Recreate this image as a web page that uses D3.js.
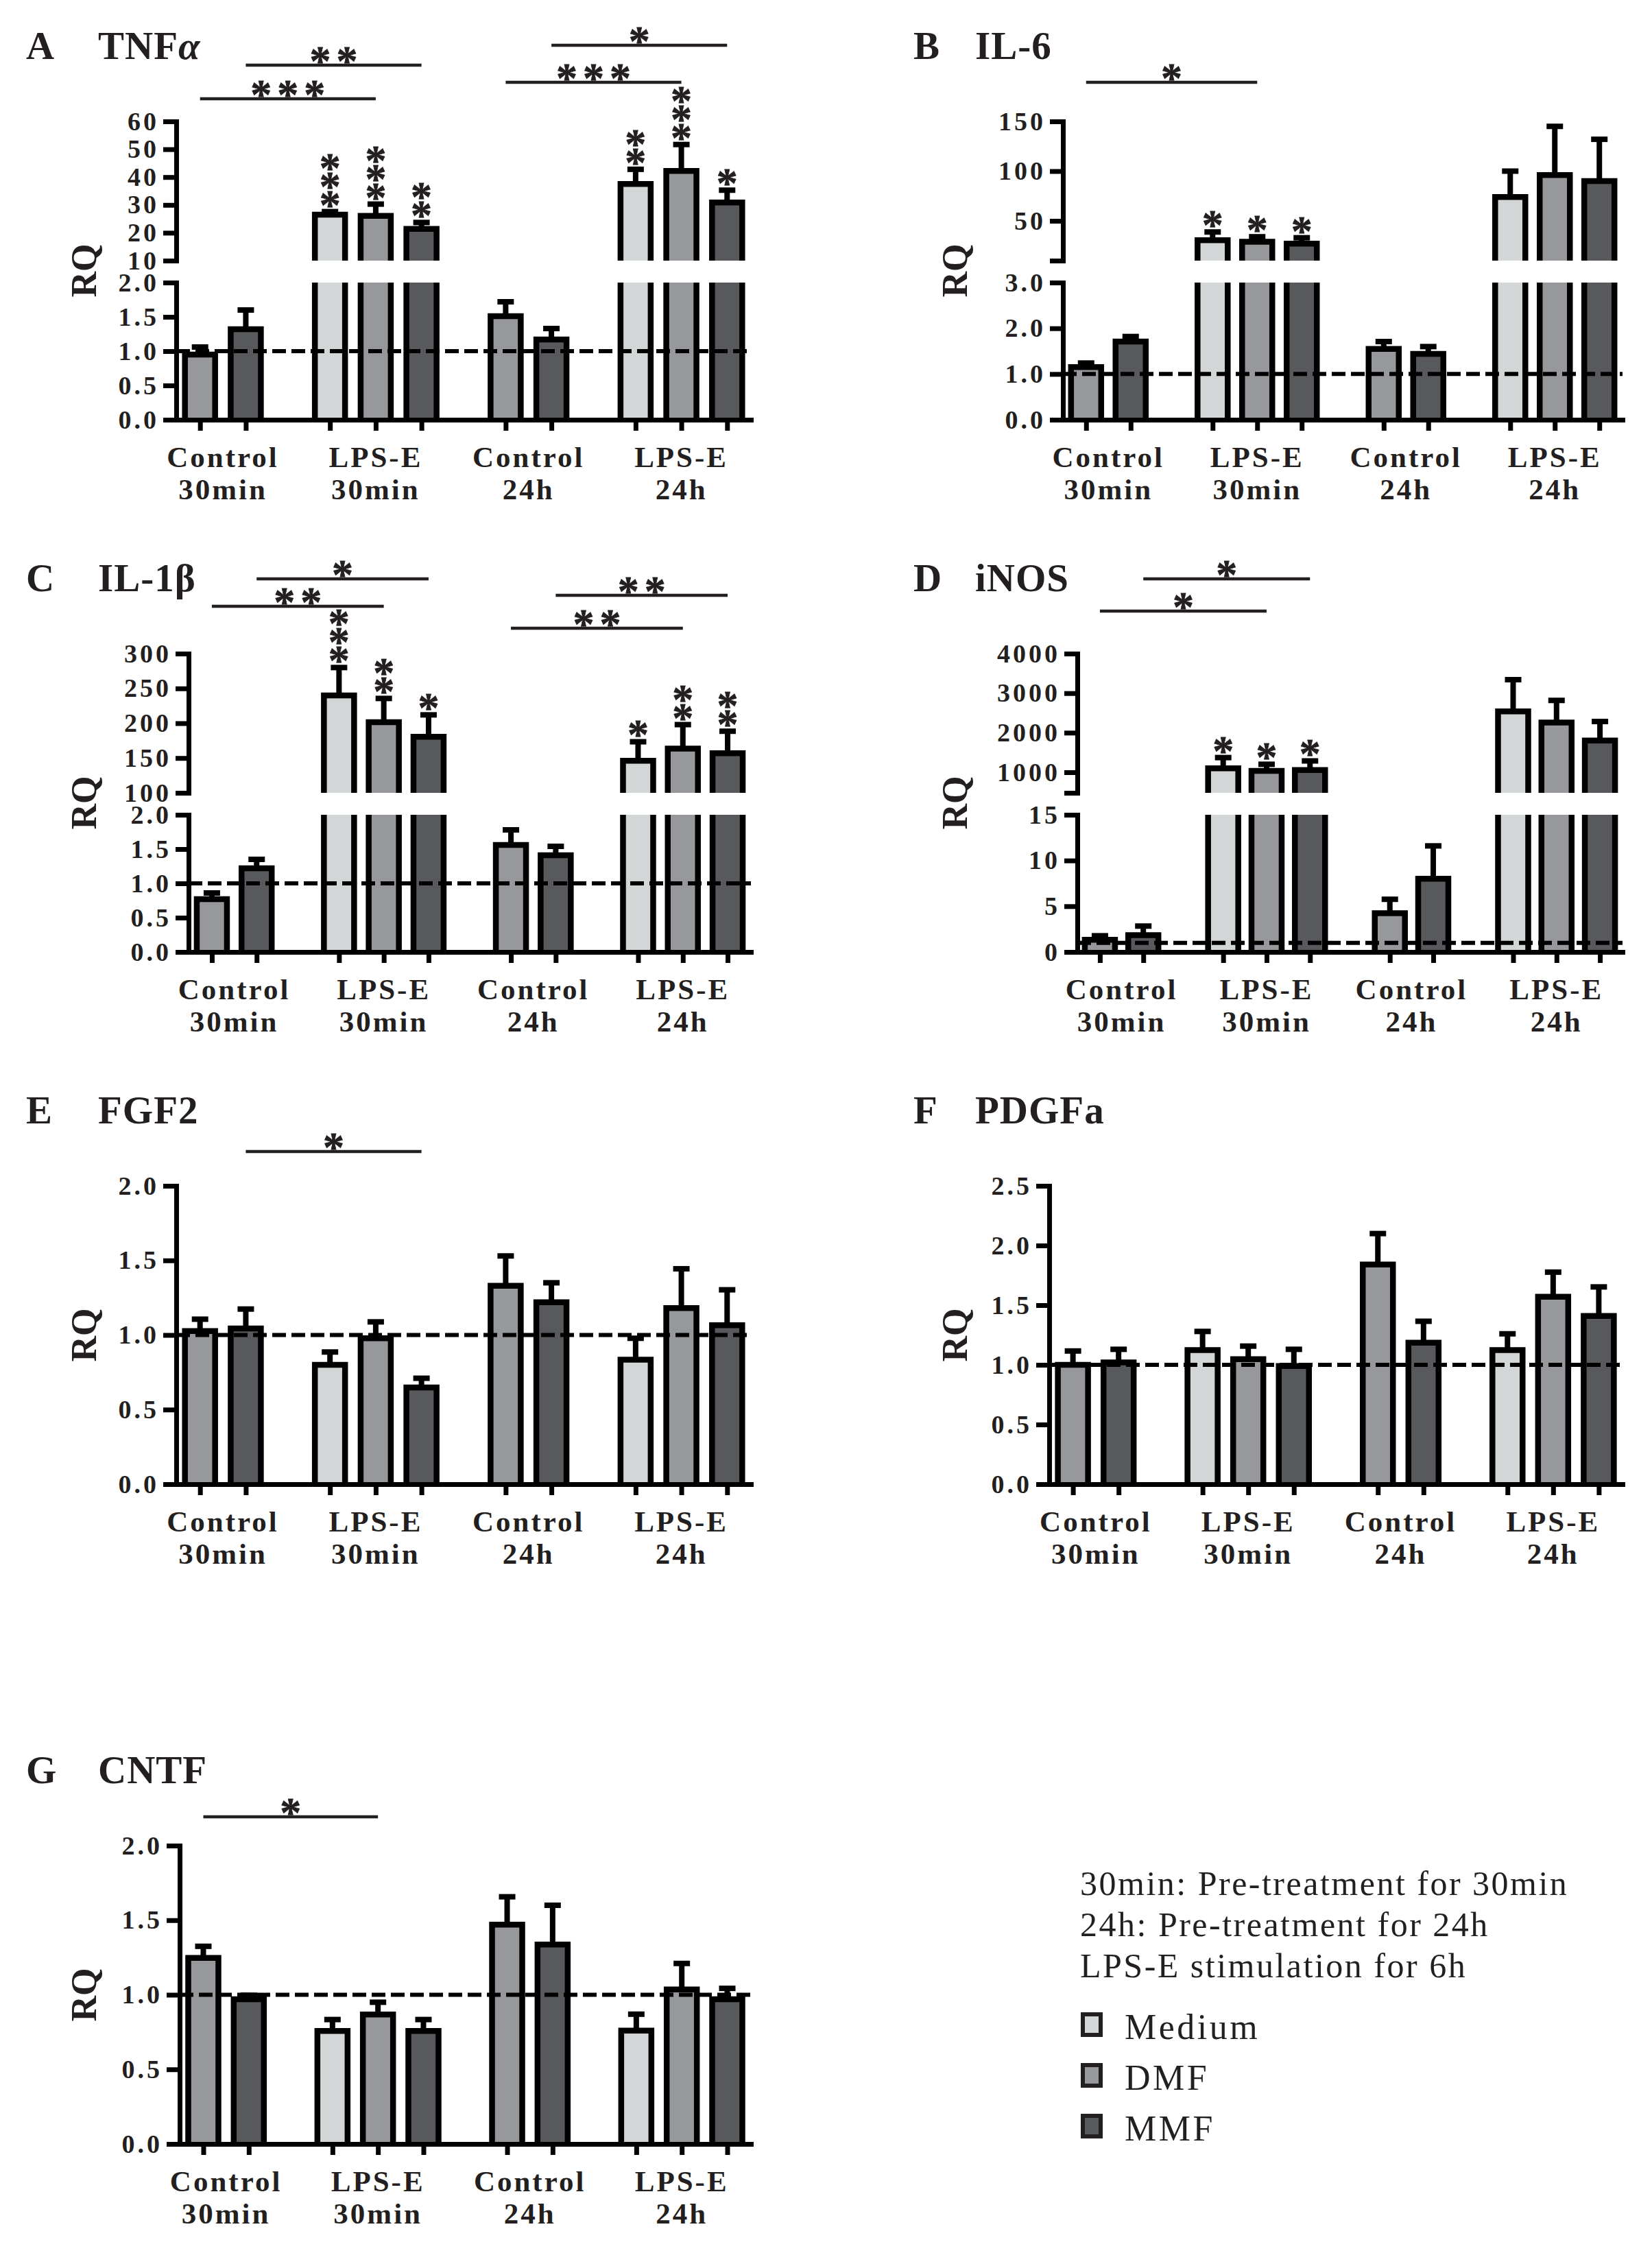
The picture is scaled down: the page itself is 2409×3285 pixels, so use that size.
<!DOCTYPE html>
<html>
<head>
<meta charset="utf-8">
<script src="https://cdn.jsdelivr.net/npm/d3@7"></script>
<style>
  body { margin: 0; background: #fff; }
  svg { display: block; }
</style>
</head>
<body>
<svg id="fig" width="2409" height="3285"></svg>
<script>
// groups on the x axis, bars in each group
const groupTop = ['Control', 'LPS-E', 'Control', 'LPS-E'];
const groupBottom = ['30min', '30min', '24h', '24h'];
const treatments = ['Medium', 'DMF', 'MMF'];
const barGroup = [0, 0, 1, 1, 1, 2, 2, 3, 3, 3];
const barTreat = [1, 2, 0, 1, 2, 1, 2, 0, 1, 2];

// A TNFa
const tnfMean = [0.95, 1.32, 26.5, 26.1, 21.4, 1.51, 1.17, 37.5, 42.2, 30.9];
const tnfErr = [0.11, 0.28, 1.1, 4.2, 2.3, 0.21, 0.16, 5.3, 9.5, 4.4];
const tnfStars = [0, 0, 3, 3, 2, 0, 0, 2, 3, 1];
const tnfBrackets = [[1, 4, '**'], [0, 3, '***'], [6, 9, '*'], [5, 8, '***']];
const tnfLowTicks = [0, 0.5, 1, 1.5, 2];
const tnfHighTicks = [10, 20, 30, 40, 50, 60];

// B IL-6
const il6Mean = [1.15, 1.71, 30.5, 29, 27, 1.55, 1.44, 74, 96, 90];
const il6Err = [0.09, 0.11, 8.3, 5, 6, 0.16, 0.16, 26, 49, 42];
const il6Stars = [0, 0, 1, 1, 1, 0, 0, 0, 0, 0];
const il6Brackets = [[0, 3, '*']];
const il6LowTicks = [0, 1, 2, 3];
const il6HighTicks = [10, 50, 100, 150];

// C IL-1b
const il1bMean = [0.77, 1.22, 240, 201.6, 180.5, 1.56, 1.41, 146, 163.5, 157];
const il1bErr = [0.09, 0.13, 40, 34, 31.5, 0.22, 0.13, 27.4, 34.5, 31.5];
const il1bStars = [0, 0, 3, 2, 1, 0, 0, 1, 2, 2];
const il1bBrackets = [[1, 4, '*'], [0, 3, '**'], [6, 9, '**'], [5, 8, '**']];
const il1bLowTicks = [0, 0.5, 1, 1.5, 2];
const il1bHighTicks = [100, 150, 200, 250, 300];

// D iNOS
const inosMean = [1.34, 1.84, 1100, 1033, 1058, 4.24, 8.0, 2538, 2259, 1802];
const inosErr = [0.43, 0.99, 271, 169, 229, 1.52, 3.6, 803, 558, 482];
const inosStars = [0, 0, 1, 1, 1, 0, 0, 0, 0, 0];
const inosBrackets = [[1, 4, '*'], [0, 3, '*']];
const inosLowTicks = [0, 5, 10, 15];
const inosHighTicks = [480, 1000, 2000, 3000, 4000];

// E FGF2
const fgf2Mean = [1.026, 1.044, 0.80, 0.978, 0.648, 1.33, 1.22, 0.835, 1.18, 1.066];
const fgf2Err = [0.08, 0.13, 0.086, 0.11, 0.062, 0.2, 0.13, 0.143, 0.264, 0.237];
const fgf2Brackets = [[1, 4, '*']];
const fgf2Ticks = [0, 0.5, 1, 1.5, 2];

// F PDGFa
const pdgfaMean = [1.0, 1.02, 1.124, 1.047, 0.99, 1.84, 1.185, 1.124, 1.57, 1.41];
const pdgfaErr = [0.116, 0.11, 0.156, 0.11, 0.14, 0.26, 0.18, 0.136, 0.207, 0.243];
const pdgfaTicks = [0, 0.5, 1, 1.5, 2, 2.5];

// G CNTF
const cntfMean = [1.247, 0.97, 0.757, 0.868, 0.757, 1.47, 1.337, 0.76, 1.036, 0.97];
const cntfErr = [0.078, 0.027, 0.077, 0.082, 0.077, 0.187, 0.263, 0.11, 0.174, 0.073];
const cntfBrackets = [[0, 3, '*']];
const cntfTicks = [0, 0.5, 1, 1.5, 2];

const noStars = [0, 0, 0, 0, 0, 0, 0, 0, 0, 0];
const legendNotes = ['30min: Pre-treatment for 30min', '24h: Pre-treatment for 24h', 'LPS-E stimulation for 6h'];

const colors = ['#d3d6d6', '#97989c', '#58595c'];
const ink = '#231f20';
const serif = "'Liberation Serif', 'Times New Roman', serif";

const rowY = [0, 776, 1552, 2514];
const panels = [
  { letter: 'A', title: ['TNF', 'α'], col: 0, row: 0, x0: 257, mean: tnfMean, err: tnfErr, stars: tnfStars,
    brackets: tnfBrackets, bracketY: [95, 144, 66, 120],
    low: [0, 2], lowTicks: tnfLowTicks, lowFmt: '.1f', high: [10, 60], highTicks: tnfHighTicks, blankFirst: false },
  { letter: 'B', title: ['IL-6'], col: 1, row: 0, x0: 1550, mean: il6Mean, err: il6Err, stars: il6Stars,
    brackets: il6Brackets, bracketY: [120],
    low: [0, 3], lowTicks: il6LowTicks, lowFmt: '.1f', high: [10, 150], highTicks: il6HighTicks, blankFirst: true },
  { letter: 'C', title: ['IL-1β'], col: 0, row: 1, x0: 275, mean: il1bMean, err: il1bErr, stars: il1bStars,
    brackets: il1bBrackets, bracketY: [68, 108, 92, 140],
    low: [0, 2], lowTicks: il1bLowTicks, lowFmt: '.1f', high: [100, 300], highTicks: il1bHighTicks, blankFirst: false },
  { letter: 'D', title: ['iNOS'], col: 1, row: 1, x0: 1571, mean: inosMean, err: inosErr, stars: inosStars,
    brackets: inosBrackets, bracketY: [68, 115],
    low: [0, 15], lowTicks: inosLowTicks, lowFmt: 'd', high: [480, 4000], highTicks: inosHighTicks, blankFirst: true },
  { letter: 'E', title: ['FGF2'], col: 0, row: 2, x0: 257, mean: fgf2Mean, err: fgf2Err, stars: noStars,
    brackets: fgf2Brackets, bracketY: [127],
    low: [0, 2], lowTicks: fgf2Ticks, lowFmt: '.1f', high: null },
  { letter: 'F', title: ['PDGFa'], col: 1, row: 2, x0: 1530, mean: pdgfaMean, err: pdgfaErr, stars: noStars,
    brackets: [], bracketY: [],
    low: [0, 2.5], lowTicks: pdgfaTicks, lowFmt: '.1f', high: null },
  { letter: 'G', title: ['CNTF'], col: 0, row: 3, x0: 262, mean: cntfMean, err: cntfErr, stars: noStars,
    brackets: cntfBrackets, bracketY: [135],
    low: [0, 2], lowTicks: cntfTicks, lowFmt: '.1f', high: null }
];

const svg = d3.select('#fig');
svg.append('rect').attr('width', 2409).attr('height', 3285).attr('fill', '#fff');

const base = 612;       // x axis
const lowTopB = 412;    // top of lower segment (broken axis)
const highBot = 380;    // bottom of upper segment
const axisTop = 177;    // top of axis
const bw = 44;          // bar width (stroke centre)
const sw = 8.5;         // bar outline
const starSize = 62;
const starGap = 8;      // letter spacing between bracket stars

function styleAxis(sel) {
  sel.select('.domain').attr('stroke', '#000').attr('stroke-width', 7).attr('stroke-linecap', 'square');
  sel.selectAll('.tick line').attr('stroke', '#000').attr('stroke-width', 7);
  sel.selectAll('.tick text')
    .attr('fill', ink)
    .style('font-family', serif)
    .style('font-weight', 'bold')
    .style('font-size', '38px')
    .style('letter-spacing', '4px');
}

function starText(sel) {
  sel.attr('text-anchor', 'middle').attr('fill', ink)
    .attr('stroke', ink).attr('stroke-width', 0.8)
    .style('font-family', serif).style('font-weight', 'bold').style('font-size', starSize + 'px');
}

panels.forEach(p => {
  const x1 = p.col ? 2366 : 1095;
  const g = svg.append('g').attr('transform', `translate(0,${rowY[p.row]})`);
  const broken = !!p.high;

  const x = d3.scaleLinear().domain([-0.52, 12.04]).range([p.x0, x1]);
  const yLow = d3.scaleLinear().domain(p.low).range([base, broken ? lowTopB : axisTop]);
  const yHigh = broken ? d3.scaleLinear().domain(p.high).range([highBot, axisTop]) : null;

  const bars = p.mean.map((v, i) => {
    const up = broken && v > p.low[1];
    const ys = up ? yHigh : yLow;
    return {
      i, v, e: p.err[i], up,
      cx: x(i + 0.84 * barGroup[i]),
      yTop: ys(v), yErr: ys(v + p.err[i]),
      fill: colors[barTreat[i]]
    };
  });

  // titles
  const colLetterX = p.col ? 1332 : 38;
  const colTitleX = p.col ? 1422 : 143;
  g.append('text').attr('x', colLetterX).attr('y', 86).text(p.letter)
    .attr('fill', ink).style('font-family', serif).style('font-weight', 'bold').style('font-size', '57px');
  const tt = g.append('text').attr('x', colTitleX).attr('y', 86)
    .attr('fill', ink).style('font-family', serif).style('font-weight', 'bold').style('font-size', '57px')
    .style('letter-spacing', '1px');
  tt.append('tspan').text(p.title[0]);
  if (p.title[1]) tt.append('tspan').style('font-style', 'italic').text(p.title[1]);

  // RQ label
  const midY = (base + axisTop) / 2;
  const rqX = p.col ? 1410 : 140;
  g.append('text').attr('transform', `translate(${rqX},${midY}) rotate(-90)`)
    .attr('text-anchor', 'middle').text('RQ')
    .attr('fill', ink).style('font-family', serif).style('font-weight', 'bold').style('font-size', '52px');

  // error bars
  const eb = g.append('g').attr('stroke', '#000').attr('stroke-width', 8);
  eb.selectAll('line.stem').data(bars).join('line').attr('class', 'stem')
    .attr('x1', d => d.cx).attr('x2', d => d.cx).attr('y1', d => d.yTop).attr('y2', d => d.yErr);
  eb.selectAll('line.cap').data(bars).join('line').attr('class', 'cap')
    .attr('x1', d => d.cx - 12).attr('x2', d => d.cx + 12).attr('y1', d => d.yErr).attr('y2', d => d.yErr);

  // bars
  const bg = g.append('g');
  bars.forEach(d => {
    const xl = d.cx - bw / 2, xr = d.cx + bw / 2;
    if (d.up) {
      bg.append('rect').attr('x', xl).attr('y', lowTopB).attr('width', bw).attr('height', base - lowTopB).attr('fill', d.fill);
      bg.append('path').attr('d', `M${xl},${base}V${lowTopB}M${xr},${lowTopB}V${base}`)
        .attr('fill', 'none').attr('stroke', '#000').attr('stroke-width', sw);
      bg.append('rect').attr('x', xl).attr('y', d.yTop).attr('width', bw).attr('height', highBot - d.yTop).attr('fill', d.fill);
      bg.append('path').attr('d', `M${xl},${highBot}V${d.yTop}H${xr}V${highBot}`)
        .attr('fill', 'none').attr('stroke', '#000').attr('stroke-width', sw).attr('stroke-linejoin', 'miter');
    } else {
      bg.append('rect').attr('x', xl).attr('y', d.yTop).attr('width', bw).attr('height', base - d.yTop).attr('fill', d.fill);
      bg.append('path').attr('d', `M${xl},${base}V${d.yTop}H${xr}V${base}`)
        .attr('fill', 'none').attr('stroke', '#000').attr('stroke-width', sw).attr('stroke-linejoin', 'miter');
    }
  });

  // reference line at RQ = 1
  g.append('line').attr('x1', p.x0).attr('x2', x1).attr('y1', yLow(1)).attr('y2', yLow(1))
    .attr('stroke', '#000').attr('stroke-width', 6).attr('stroke-dasharray', '20,8');

  // axes
  g.append('g').attr('transform', `translate(${p.x0},0)`)
    .call(d3.axisLeft(yLow).tickValues(p.lowTicks).tickFormat(d3.format(p.lowFmt))
      .tickSize(19).tickSizeOuter(0).tickPadding(6))
    .call(styleAxis);
  if (broken) {
    const hf = d3.format('d');
    g.append('g').attr('transform', `translate(${p.x0},0)`)
      .call(d3.axisLeft(yHigh).tickValues(p.highTicks)
        .tickFormat((d, i) => (p.blankFirst && i === 0) ? '' : hf(d))
        .tickSize(19).tickSizeOuter(0).tickPadding(6))
      .call(styleAxis);
  }
  g.append('g').attr('transform', `translate(0,${base})`)
    .call(d3.axisBottom(x).tickValues(bars.map(d => x.invert(d.cx))).tickFormat('')
      .tickSize(16).tickSizeOuter(0))
    .call(styleAxis);

  // group labels
  groupTop.forEach((name, gi) => {
    const cx = d3.mean(bars.filter(d => barGroup[d.i] === gi), d => d.cx);
    const t = g.append('text').attr('text-anchor', 'middle').attr('fill', ink)
      .style('font-family', serif).style('font-weight', 'bold').style('font-size', '43px')
      .style('letter-spacing', '3px');
    t.append('tspan').attr('x', cx).attr('y', base + 69).text(name);
    t.append('tspan').attr('x', cx).attr('y', base + 116).text(groupBottom[gi]);
  });

  // stars over bars, one stacked text per bar
  bars.filter(d => p.stars[d.i] > 0).forEach(d => {
    const t = g.append('text').call(starText);
    for (let k = 0; k < p.stars[d.i]; k++) {
      t.append('tspan').attr('x', d.cx).attr('y', d.yErr - 19 - k * 27 + 29).text('*');
    }
  });

  // comparison brackets
  p.brackets.forEach((b, bi) => {
    const xa = bars[b[0]].cx, xb = bars[b[1]].cx, y = p.bracketY[bi];
    g.append('line').attr('x1', xa).attr('x2', xb).attr('y1', y).attr('y2', y)
      .attr('stroke', ink).attr('stroke-width', 4.5);
    g.append('text').attr('x', (xa + xb) / 2 + starGap / 2).attr('y', y + 14).text(b[2])
      .call(starText).style('letter-spacing', starGap + 'px');
  });
});

// legend
const leg = svg.append('g');
legendNotes.forEach((s, i) => {
  leg.append('text').attr('x', 1575).attr('y', 2763 + i * 60).text(s)
    .attr('fill', ink).style('font-family', serif).style('font-size', '50px').style('letter-spacing', '2.5px');
});
treatments.forEach((s, i) => {
  const y = 2973 + i * 74;
  leg.append('rect').attr('x', 1579).attr('y', y - 36).attr('width', 26).attr('height', 30)
    .attr('fill', colors[i]).attr('stroke', ink).attr('stroke-width', 6);
  leg.append('text').attr('x', 1640).attr('y', y).text(s)
    .attr('fill', ink).style('font-family', serif).style('font-size', '52px').style('letter-spacing', '3.5px');
});
</script>
</body>
</html>
